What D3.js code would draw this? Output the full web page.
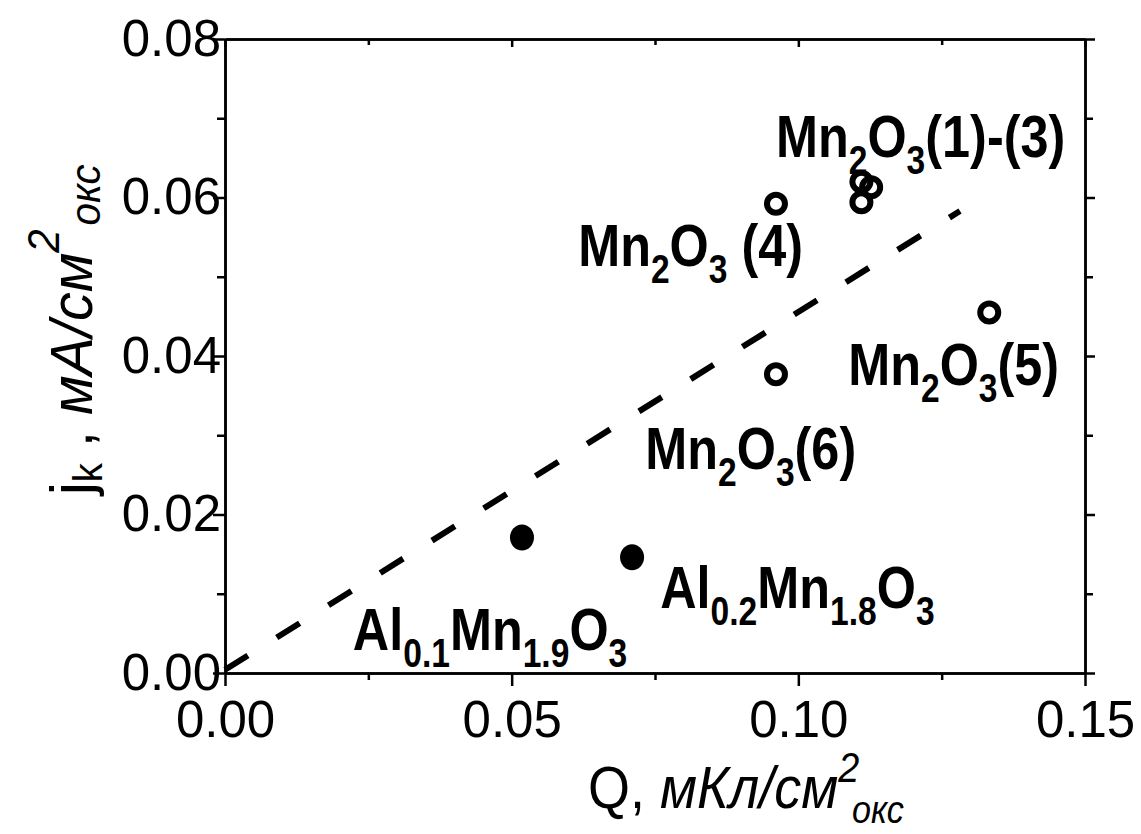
<!DOCTYPE html>
<html><head><meta charset="utf-8">
<script src="https://cdn.jsdelivr.net/npm/d3@7"></script>
<style>body{margin:0;background:#fff}</style>
</head><body>
<svg id="c" width="1141" height="834"></svg>
<script>
// ---- data ----
const xMajorTicks = [0, 0.05, 0.10, 0.15];
const xMinorTicks = [0.025, 0.075, 0.125];
const yMajorTicks = [0, 0.02, 0.04, 0.06, 0.08];
const yMinorTicks = [0.01, 0.03, 0.05, 0.07];
const openQ = [0.1110, 0.1110, 0.1127, 0.0961, 0.1333, 0.0961];
const openJ = [0.0620, 0.0594, 0.0613, 0.0592, 0.0455, 0.0377];
const filledQ = [0.0518, 0.0710];
const filledJ = [0.0171, 0.0146];
const fitQ = [0, 0.1282];
const fitJ = [0.0004, 0.0583];
// label parts: [text, kind] kind: n normal, s subscript
const labelText = [
  [["Mn","n"],["2","s"],["O","n"],["3","s"],["(1)-(3)","n"]],
  [["Mn","n"],["2","s"],["O","n"],["3","s"],[" (4)","n"]],
  [["Mn","n"],["2","s"],["O","n"],["3","s"],["(5)","n"]],
  [["Mn","n"],["2","s"],["O","n"],["3","s"],["(6)","n"]],
  [["Al","n"],["0.1","s"],["Mn","n"],["1.9","s"],["O","n"],["3","s"]],
  [["Al","n"],["0.2","s"],["Mn","n"],["1.8","s"],["O","n"],["3","s"]]
];
const labelQ = [0.0961, 0.0616, 0.1087, 0.0733, 0.0223, 0.0759];
const labelJ = [0.0651, 0.0514, 0.0364, 0.0258, 0.0029, 0.0082];

// ---- layout ----
const L = 225, R = 1085, T = 39, B = 673;
const x = d3.scaleLinear().domain([0, 0.15]).range([L, R]);
const y = d3.scaleLinear().domain([0, 0.08]).range([B, T]);
const svg = d3.select("#c");
const FONT = "'Liberation Sans', Arial, sans-serif";
const fmt = d3.format(".2f");

function styleAxis(g) {
  g.selectAll("path.domain").attr("stroke", "#000").attr("stroke-width", 2.5);
  g.selectAll(".tick line").attr("stroke", "#000").attr("stroke-width", 2.5);
  g.selectAll(".tick text").attr("fill", "#000").style("font-family", FONT).style("font-size", "51px");
}

// bottom
svg.append("g").attr("transform", `translate(0,${B})`)
  .call(d3.axisBottom(x).tickValues(xMajorTicks).tickFormat(fmt).tickSizeInner(13).tickSizeOuter(0).tickPadding(15))
  .call(styleAxis);
svg.append("g").attr("transform", `translate(0,${B})`)
  .call(d3.axisBottom(x).tickValues(xMinorTicks).tickFormat("").tickSizeInner(7).tickSizeOuter(0))
  .call(styleAxis);
// top
svg.append("g").attr("transform", `translate(0,${T})`)
  .call(d3.axisTop(x).tickValues(xMajorTicks).tickFormat("").tickSizeInner(-8).tickSizeOuter(0))
  .call(styleAxis);
svg.append("g").attr("transform", `translate(0,${T})`)
  .call(d3.axisTop(x).tickValues(xMinorTicks).tickFormat("").tickSizeInner(-6).tickSizeOuter(0))
  .call(styleAxis);
// left
svg.append("g").attr("transform", `translate(${L},0)`)
  .call(d3.axisLeft(y).tickValues(yMajorTicks).tickFormat(fmt).tickSizeInner(12).tickSizeOuter(0).tickPadding(-8))
  .call(styleAxis);
svg.append("g").attr("transform", `translate(${L},0)`)
  .call(d3.axisLeft(y).tickValues(yMinorTicks).tickFormat("").tickSizeInner(8).tickSizeOuter(0))
  .call(styleAxis);
// right
svg.append("g").attr("transform", `translate(${R},0)`)
  .call(d3.axisRight(y).tickValues(yMajorTicks).tickFormat("").tickSizeInner(10).tickSizeOuter(0))
  .call(styleAxis);
svg.append("g").attr("transform", `translate(${R},0)`)
  .call(d3.axisRight(y).tickValues(yMinorTicks).tickFormat("").tickSizeInner(8).tickSizeOuter(0))
  .call(styleAxis);

// fit line
const fitData = fitQ.map((q, i) => [q, fitJ[i]]);
svg.append("path").datum(fitData)
  .attr("d", d3.line().x(d => x(d[0])).y(d => y(d[1])))
  .attr("fill", "none").attr("stroke", "#000").attr("stroke-width", 6)
  .attr("stroke-dasharray", "27,34");

// open circles
svg.append("g").selectAll("circle").data(openQ.map((q, i) => [q, openJ[i]])).join("circle")
  .attr("cx", d => x(d[0])).attr("cy", d => y(d[1])).attr("r", 9)
  .attr("fill", "none").attr("stroke", "#000").attr("stroke-width", 6);
// filled
svg.append("g").selectAll("ellipse").data(filledQ.map((q, i) => [q, filledJ[i]])).join("ellipse")
  .attr("cx", d => x(d[0])).attr("cy", d => y(d[1])).attr("rx", 12).attr("ry", 13)
  .attr("fill", "#000");

// labels
const SX = 0.84;
labelText.forEach((parts, i) => {
  const t = svg.append("text")
    .attr("transform", `translate(${x(labelQ[i])},${y(labelJ[i])}) scale(${SX},1)`)
    .style("font-family", FONT).style("font-weight", "bold").style("font-size", "60px");
  let prev = "n";
  parts.forEach(([s, k]) => {
    const ts = t.append("tspan").text(s);
    if (k === "s") { ts.style("font-size", "40px"); ts.attr("dy", prev === "s" ? 0 : 17); }
    else { ts.attr("dy", prev === "s" ? -17 : 0); }
    prev = k;
  });
});

// x title
const xt = svg.append("text").attr("transform", "translate(588,808) scale(0.9,1)")
  .style("font-family", FONT).style("font-size", "60px").attr("fill", "#000");
xt.append("tspan").text("Q, ");
xt.append("tspan").style("font-style", "italic").text("мКл/см");
xt.append("tspan").style("font-style", "italic").style("font-size", "42px").attr("dy", -26).text("2");
xt.append("tspan").style("font-style", "italic").style("font-size", "38px").attr("dx", -8).attr("dy", 41).text("окс");

// y title
const yt = svg.append("text").attr("transform", "translate(92,495) rotate(-90) scale(0.96,1)")
  .style("font-family", FONT).style("font-size", "60px").attr("fill", "#000");
yt.append("tspan").text("j");
yt.append("tspan").style("font-size", "40px").attr("dy", 10).text("k");
yt.append("tspan").attr("dy", -10).text(" , ");
yt.append("tspan").style("font-style", "italic").text("мА/см");
yt.append("tspan").style("font-style", "italic").style("font-size", "44px").attr("dy", -33).text("2");
yt.append("tspan").style("font-style", "italic").style("font-size", "42px").attr("dx", 4).attr("dy", 41).text("окс");
</script>
</body></html>
